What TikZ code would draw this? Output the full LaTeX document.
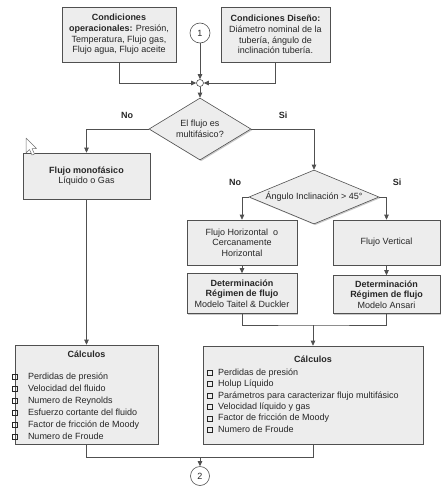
\documentclass[tikz,border=0pt]{standalone}
\usepackage{fontspec}
\setmainfont{Liberation Sans}
\usetikzlibrary{arrows.meta,shapes.geometric,shadows}
\definecolor{ln}{HTML}{505050}
\definecolor{bx}{HTML}{EDEDED}
\newcommand\sqb{\raisebox{0.4pt}{\setlength\fboxsep{0pt}\setlength\fboxrule{0.45pt}\fbox{\rule{0pt}{4.4pt}\hspace{4.4pt}}}}
\begin{document}
\begin{tikzpicture}[x=1pt,y=-1pt,
  txt/.style={font=\fontsize{9}{10.7}\selectfont, align=center, text=black!85},
  shad/.style={drop shadow={shadow xshift=1.2pt, shadow yshift=-1.2pt, opacity=0.35, fill=black!60}},
  box/.style={txt, draw=ln, fill=bx, line width=0.6pt, shad, inner sep=0pt},
  dia/.style={shape=diamond, draw=ln, fill=bx, line width=0.6pt, shad, inner sep=0pt},
  circ/.style={txt, circle, draw=ln, fill=white, line width=0.6pt, inner sep=0pt},
  lbl/.style={txt, font=\fontsize{9}{10.7}\selectfont\bfseries},
  item/.style={txt, anchor=base west, inner sep=0pt},
  arr/.style={draw=ln, line width=0.6pt, -{Triangle[length=5pt,width=4.5pt]}},
  con/.style={draw=ln, line width=0.6pt}
]
\useasboundingbox (0,0) rectangle (447,490);

% top boxes
\node[box, minimum width=114pt, minimum height=55pt] (op) at (119,34.5)
  {\textbf{Condiciones}\\\textbf{operacionales:} Presión,\\Temperatura, Flujo gas,\\Flujo agua, Flujo aceite};
\node[box, minimum width=109pt, minimum height=55pt] (dis) at (275.5,34.5)
  {\textbf{Condiciones Diseño:}\\Diámetro nominal de la\\tubería, ángulo de\\inclinación tubería.};
\node[circ, minimum size=20pt] (c1) at (200,33) {1};
\node[circle, draw=ln, fill=white, line width=0.6pt, minimum size=7pt, inner sep=0pt] (junc) at (200,83) {};

% decision 1
\node[dia, minimum width=102pt, minimum height=62pt,
  label={[txt]center:El flujo es\\multifásico?}] (d1) at (200,129) {};
\node[lbl] (no1) at (127,115) {No};
\node[lbl] (si1) at (283,115) {Si};

% monofasico
\node[box, minimum width=127pt, minimum height=46pt] (mono) at (86.5,176)
  {\textbf{Flujo monofásico}\\Líquido o Gas};

% decision 2
\node[dia, minimum width=130pt, minimum height=54pt,
  label={[txt]center:Ángulo Inclinación > 45°}] (d2) at (314,197) {};
\node[lbl] (no2) at (235,182) {No};
\node[lbl] (si2) at (397,182) {Si};

\node[box, minimum width=110pt, minimum height=45pt] (fh) at (242,242.5)
  {Flujo Horizontal\ \ o\\Cercanamente\\Horizontal};
\node[box, minimum width=107pt, minimum height=45pt] (fv) at (386.5,242.5)
  {Flujo Vertical};
\node[box, minimum width=110pt, minimum height=40pt] (dt) at (242,293.5)
  {\textbf{Determinación}\\\textbf{Régimen de flujo}\\Modelo Taitel \& Duckler};
\node[box, minimum width=107pt, minimum height=38pt] (da) at (386.5,294.5)
  {\textbf{Determinación}\\\textbf{Régimen de flujo}\\Modelo Ansari};

% calculos boxes
\node[box, minimum width=143pt, minimum height=99pt] (calcL) at (86.5,394.5) {};
\node[box, minimum width=220pt, minimum height=98pt] (calcR) at (313,395) {};
\node[lbl] (tL) at (86.5,354) {Cálculos};
\node[lbl] (tR) at (313,359) {Cálculos};

\foreach \t [count=\i] in {Perdidas de presión, Velocidad del fluido, Numero de Reynolds,
    Esfuerzo cortante del fluido, Factor de fricción de Moody, Numero de Froude}
  \node[item] (L\i) at (12,{379.3+(\i-1)*12}) {\sqb\hspace{10.5pt}\t};
\foreach \t [count=\i] in {Perdidas de presión, Holup Líquido,
    Parámetros para caracterizar flujo multifásico, Velocidad líquido y gas,
    Factor de fricción de Moody, Numero de Froude}
  \node[item] (R\i) at (207,{375.3+(\i-1)*11.4}) {\sqb\hspace{5.5pt}\t};

\node[circ, minimum size=19pt] (c2) at (200,476) {2};

% cursor
\draw[ln!80, fill=white, line width=0.5pt, line join=round]
  (26,138) -- (26,153) -- (29.5,149.5) -- (32,155) -- (34.5,154) -- (32,148.5) -- (36.5,148.5) -- cycle;

% connectors
\draw[arr] (op.south) |- (junc.west);
\draw[arr] (dis.south) |- (junc.east);
\draw[arr] (c1) -- (junc);
\draw[arr] (junc) -- (d1.north);
\draw[arr] (d1.west) -| (mono.north);
\draw[arr] (d1.east) -| (d2.north);
\draw[arr] (d2.west) -| (fh.north);
\draw[arr] (d2.east) -| (fv.north);
\draw[arr] (fh) -- (dt);
\draw[arr] (fv) -- (da);
\coordinate (m) at (313,325);
\draw[con] (dt.south) |- (m) -| (da.south);
\draw[arr] (m) -- (calcR.north);
\draw[arr] (mono) -- (calcL);
\coordinate (b) at (200,457);
\draw[con] (calcL.south) |- (b);
\draw[con] (calcR.south) |- (b);
\draw[arr] (b) -- (c2.north);
\end{tikzpicture}
\end{document}
